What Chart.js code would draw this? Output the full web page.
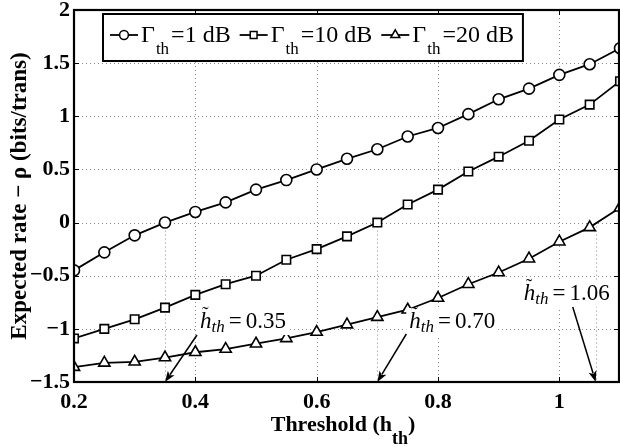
<!DOCTYPE html>
<html><head><meta charset="utf-8">
<script src="https://cdn.jsdelivr.net/npm/chart.js@4.4.0/dist/chart.umd.min.js"></script>
<style>html,body{margin:0;padding:0;background:#fff;overflow:hidden}canvas{display:block}</style>
</head><body>
<canvas id="c" width="620" height="447"></canvas>
<script>
// ---- data ----
const thresholds = [0.2,0.25,0.3,0.35,0.4,0.45,0.5,0.55,0.6,0.65,0.7,0.75,0.8,0.85,0.9,0.95,1.0,1.05,1.1];
const rate1dB  = [-0.45,-0.28,-0.12,0.0,0.10,0.19,0.31,0.40,0.50,0.60,0.69,0.81,0.89,1.02,1.16,1.26,1.39,1.49,1.64];
const rate10dB = [-1.09,-1.00,-0.91,-0.80,-0.68,-0.58,-0.50,-0.35,-0.25,-0.13,0.00,0.17,0.31,0.48,0.62,0.77,0.97,1.11,1.33];
const rate20dB = [-1.36,-1.32,-1.31,-1.27,-1.22,-1.19,-1.14,-1.09,-1.03,-0.96,-0.89,-0.82,-0.71,-0.58,-0.47,-0.34,-0.18,-0.045,0.14];
const seriesNames = ['=1 dB','=10 dB','=20 dB'];
const xTicks = [0.2,0.4,0.6,0.8,1];
const yTicks = [-1.5,-1,-0.5,0,0.5,1,1.5,2];
const crossingX = [0.35,0.70,1.06];
const crossingText = ['0.35','0.70','1.06'];

// ---- styles ----
const SERIF = '"Liberation Serif","Times New Roman",serif';
const markerStyles = [
  {pointStyle:'circle', radius:5.5},
  {pointStyle:'rect', radius:6},
  {pointStyle:'triangle', radius:6.5}
];
// annotation layout offsets (px) relative to arrow tip
const annLayout = [
  {lx:35, ly:-54, tx:32, ty:-47},
  {lx:32, ly:-54, tx:29, ty:-48},
  {lx:-72, ly:-82, tx:-23, ty:-75}
];

function mkData(ys){ return thresholds.map((x,i)=>({x:x, y:ys[i]})); }
const seriesData = [rate1dB, rate10dB, rate20dB];

const datasets = seriesData.map((ys,i)=>({
  label: seriesNames[i],
  data: mkData(ys),
  borderColor:'#000', borderWidth:1.8,
  backgroundColor:'#fff',
  pointBackgroundColor:'#fff', pointBorderColor:'#000', pointBorderWidth:1.6,
  pointStyle: markerStyles[i].pointStyle, pointRadius: markerStyles[i].radius,
  tension:0, fill:false
}));

function drawMarker(ctx, style, r, x, y){
  ctx.save();
  ctx.fillStyle='#fff'; ctx.strokeStyle='#000'; ctx.lineWidth=1.5;
  ctx.beginPath();
  if(style==='circle'){ ctx.arc(x,y,r,0,Math.PI*2); }
  else if(style==='rect'){ const s=r*Math.SQRT1_2; ctx.rect(x-s,y-s,2*s,2*s); }
  else {
    ctx.moveTo(x, y-r);
    ctx.lineTo(x + r*Math.sin(2*Math.PI/3), y - r*Math.cos(2*Math.PI/3));
    ctx.lineTo(x + r*Math.sin(4*Math.PI/3), y - r*Math.cos(4*Math.PI/3));
    ctx.closePath();
  }
  ctx.fill(); ctx.stroke();
  ctx.restore();
}

function fmt(v){ const s = String(v); return v<0 ? '\u2212'+s.slice(1) : s; }

const decor = {
  id:'decor',
  beforeDatasetsDraw(chart){
    const {ctx, chartArea:a, scales:{x,y}} = chart;
    ctx.save();
    ctx.strokeStyle='#8a8a8a'; ctx.lineWidth=1; ctx.setLineDash([1,3]);
    ctx.beginPath();
    xTicks.forEach(v=>{ const px=Math.round(x.getPixelForValue(v))+0.5; ctx.moveTo(px,a.top); ctx.lineTo(px,a.bottom); });
    yTicks.forEach(v=>{ const py=Math.round(y.getPixelForValue(v))+0.5; ctx.moveTo(a.left,py); ctx.lineTo(a.right,py); });
    crossingX.forEach(v=>{ const px=Math.round(x.getPixelForValue(v))+0.5; ctx.moveTo(px,y.getPixelForValue(0)); ctx.lineTo(px,a.bottom); });
    ctx.stroke();
    ctx.restore();
  },
  afterDatasetsDraw(chart){
    const {ctx, chartArea:a, scales:{x,y}} = chart;
    ctx.save();
    // annotations
    const F = 23, FS = 17;
    crossingX.forEach((v,i)=>{
      const L = annLayout[i];
      const hx = x.getPixelForValue(v), hy = y.getPixelForValue(y.min);
      const lx = hx + L.lx, base = hy + L.ly;
      ctx.font = 'italic '+F+'px '+SERIF;
      const wh = ctx.measureText('h').width;
      ctx.font = 'italic '+FS+'px '+SERIF;
      const wth = ctx.measureText('th').width;
      ctx.font = F+'px '+SERIF;
      const weq = ctx.measureText('=').width;
      const wnum = ctx.measureText(crossingText[i]).width;
      const gap = 4;
      const total = wh + wth + gap + weq + gap + wnum;
      ctx.fillStyle='#fff';
      ctx.fillRect(lx-3, base-20, total+6, 27);
      ctx.fillStyle='#000';
      ctx.textBaseline='alphabetic'; ctx.textAlign='left';
      ctx.font = 'italic '+F+'px '+SERIF;
      ctx.fillText('h', lx, base);
      ctx.font = '20px '+SERIF;
      ctx.fillText('\u02DC', lx+2, base-7);
      ctx.font = 'italic '+FS+'px '+SERIF;
      ctx.fillText('th', lx+wh, base+4);
      ctx.font = F+'px '+SERIF;
      ctx.fillText('=', lx+wh+wth+gap, base);
      ctx.fillText(crossingText[i], lx+wh+wth+gap+weq+gap, base);
      // arrow
      const tx = hx + L.tx, ty = hy + L.ty;
      const ang = Math.atan2(hy-ty, hx-tx);
      const hl = 11, hw = 4;
      ctx.strokeStyle='#000'; ctx.lineWidth=1.5; ctx.setLineDash([]);
      ctx.beginPath(); ctx.moveTo(tx,ty); ctx.lineTo(hx-Math.cos(ang)*hl*0.8, hy-Math.sin(ang)*hl*0.8); ctx.stroke();
      ctx.beginPath();
      ctx.moveTo(hx,hy);
      ctx.lineTo(hx-Math.cos(ang)*hl - Math.sin(ang)*hw, hy-Math.sin(ang)*hl + Math.cos(ang)*hw);
      ctx.lineTo(hx-Math.cos(ang)*hl*0.75, hy-Math.sin(ang)*hl*0.75);
      ctx.lineTo(hx-Math.cos(ang)*hl + Math.sin(ang)*hw, hy-Math.sin(ang)*hl - Math.cos(ang)*hw);
      ctx.closePath(); ctx.fillStyle='#000'; ctx.fill();
    });
    // tick marks inward
    ctx.strokeStyle='#000'; ctx.lineWidth=1; ctx.setLineDash([]);
    ctx.beginPath();
    xTicks.forEach(v=>{ const px=Math.round(x.getPixelForValue(v))+0.5;
      ctx.moveTo(px,a.bottom); ctx.lineTo(px,a.bottom-5); ctx.moveTo(px,a.top); ctx.lineTo(px,a.top+5); });
    yTicks.forEach(v=>{ const py=Math.round(y.getPixelForValue(v))+0.5;
      ctx.moveTo(a.left,py); ctx.lineTo(a.left+5,py); ctx.moveTo(a.right-1,py); ctx.lineTo(a.right-6,py); });
    ctx.stroke();
    // axes box
    ctx.lineWidth=2.2;
    ctx.strokeRect(a.left, a.top, a.right-a.left-1, a.bottom-a.top);
    // legend
    const GF = 24, TF = 24, SF = 17, entryGap = 9;
    const ly = a.top + 25;
    let cx = a.left + 36;
    const startX = a.left + 29;
    ctx.textBaseline='alphabetic'; ctx.textAlign='left';
    const items = [];
    seriesNames.forEach((nm,i)=>{
      items.push({i, x:cx});
      ctx.font = GF+'px '+SERIF; const wG = ctx.measureText('\u0393').width;
      ctx.font = SF+'px '+SERIF; const wS = ctx.measureText('th').width;
      ctx.font = TF+'px '+SERIF; const wN = ctx.measureText(nm).width;
      cx += 28 + 3 + wG + 1 + wS + 2 + wN + entryGap;
    });
    const endX = cx - entryGap + 9;
    ctx.fillStyle='#fff';
    ctx.fillRect(startX, a.top+4, endX-startX, 47);
    ctx.lineWidth=2;
    ctx.strokeStyle='#000';
    ctx.strokeRect(startX, a.top+4, endX-startX, 47);
    items.forEach(it=>{
      const i = it.i; let px = it.x;
      ctx.lineWidth=1.8; ctx.strokeStyle='#000';
      ctx.beginPath(); ctx.moveTo(px, ly); ctx.lineTo(px+28, ly); ctx.stroke();
      drawMarker(ctx, markerStyles[i].pointStyle, markerStyles[i].radius*0.8, px+14, ly);
      px += 31;
      ctx.fillStyle='#000';
      ctx.font = GF+'px '+SERIF; ctx.fillText('\u0393', px, ly+7); px += ctx.measureText('\u0393').width + 1;
      ctx.font = SF+'px '+SERIF; ctx.fillText('th', px, ly+19); px += ctx.measureText('th').width + 2;
      ctx.font = TF+'px '+SERIF; ctx.fillText(seriesNames[i], px, ly+7);
    });
    ctx.restore();
  },
  afterDraw(chart){
    const {ctx, chartArea:a} = chart;
    ctx.save();
    ctx.fillStyle='#000'; ctx.textBaseline='alphabetic'; ctx.textAlign='left';
    const base = 431;
    ctx.font = 'bold 22px '+SERIF; const w1 = ctx.measureText('Threshold (h').width; const w3 = ctx.measureText(')').width;
    ctx.font = 'bold 18px '+SERIF; const w2 = ctx.measureText('th').width;
    let px = (a.left+a.right)/2 - 4 - (w1+w2+w3)/2;
    ctx.font = 'bold 22px '+SERIF; ctx.fillText('Threshold (h', px, base); px += w1;
    ctx.font = 'bold 18px '+SERIF; ctx.fillText('th', px, base+13); px += w2;
    ctx.font = 'bold 22px '+SERIF; ctx.fillText(')', px, base);
    ctx.restore();
  }
};

new Chart(document.getElementById('c'), {
  type:'line',
  data:{datasets},
  options:{
    responsive:false, animation:false, devicePixelRatio:1,
    layout:{autoPadding:false, padding:{top:10,right:0,left:0,bottom:0}},
    plugins:{legend:{display:false}, tooltip:{enabled:false}},
    scales:{
      x:{type:'linear', min:0.2, max:1.1,
        afterBuildTicks(s){ s.ticks = xTicks.map(v=>({value:v})); },
        afterFit(s){ s.height = 65; s.paddingLeft = 0; s.paddingRight = 0; },
        grid:{display:false, drawTicks:false}, border:{display:false},
        ticks:{color:'#000', padding:7, font:{family:SERIF, weight:'bold', size:22}, callback:v=>fmt(v), maxRotation:0, autoSkip:false}
      },
      y:{type:'linear', min:-1.5, max:2,
        afterBuildTicks(s){ s.ticks = yTicks.map(v=>({value:v})); },
        afterFit(s){ s.width = 74; s.paddingTop = 0; s.paddingBottom = 0; },
        grid:{display:false, drawTicks:false}, border:{display:false},
        ticks:{color:'#000', padding:4, font:{family:SERIF, weight:'bold', size:22}, callback:v=>fmt(v), autoSkip:false},
        title:{display:true, text:'Expected rate \u2212 \u03C1 (bits/trans)', color:'#000', font:{family:SERIF, weight:'bold', size:23}, padding:{top:6,bottom:0}}
      }
    }
  },
  plugins:[decor]
});
</script>
</body></html>
